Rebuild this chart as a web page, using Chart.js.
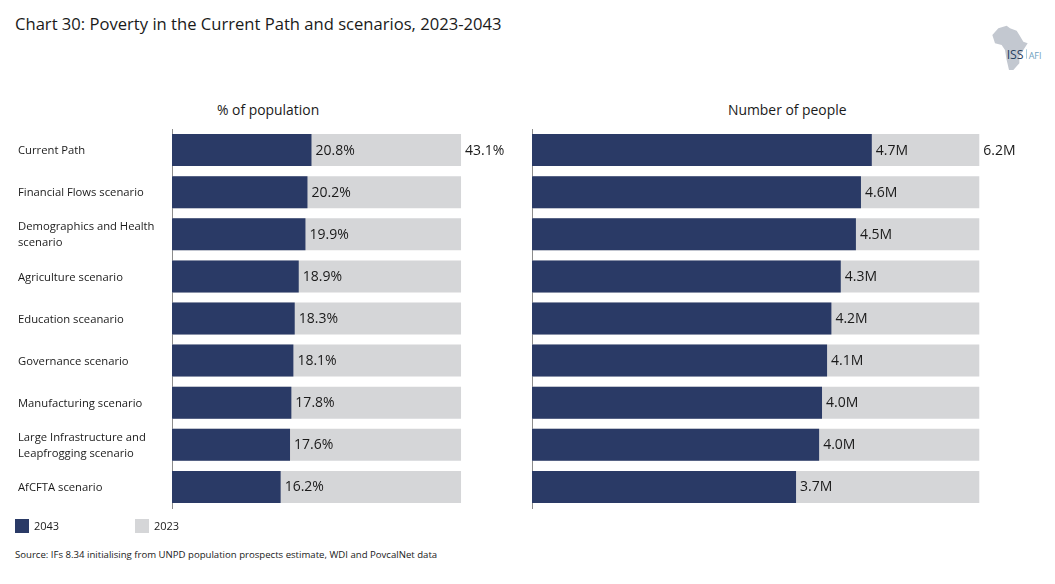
<!DOCTYPE html>
<html>
<head>
<meta charset="utf-8">
<title>Chart 30</title>
<script src="https://cdn.jsdelivr.net/npm/chart.js@4"></script>
<style>
  html, body { margin: 0; padding: 0; background: #fff; }
  body { position: relative; width: 1055px; height: 584px; overflow: hidden; font-family: "Open Sans", sans-serif; color: #1a1a1a; }
  canvas { position: absolute; top: 120px; }
  .txt { position: absolute; white-space: nowrap; }
  .swatch { position: absolute; width: 14px; height: 14px; top: 519px; }
</style>
</head>
<body>
<div class="txt" style="left:15px;top:12px;font-size:16.6px">Chart 30: Poverty in the Current Path and scenarios, 2023-2043</div>

<svg style="position:absolute;left:960px;top:10px" width="95" height="70" viewBox="0 0 285 210">
  <path fill="#c3c8d0" d="M97 75 L115 55 L140 47 L150 55 L170 62 L178 75 L190 95 L203 100 L190 120 L178 140 L178 160 L160 180 L147 180 L140 150 L135 120 L125 105 L105 100 Z"/>
  <text x="140" y="147" font-family="Open Sans" font-size="37" fill="#27405f">ISS</text>
  <rect x="199" y="118" width="2" height="28" fill="#7fb2cc"/>
  <text x="206" y="146" font-family="Open Sans" font-size="27" fill="#6f9fc0">AFI</text>
</svg>

<div class="txt" style="left:217px;top:100px;font-size:13.9px">% of population</div>
<div class="txt" style="left:728px;top:100px;font-size:13.9px">Number of people</div>

<canvas id="pct-chart" width="522" height="400" style="left:0"></canvas>
<canvas id="people-chart" width="533" height="400" style="left:522px"></canvas>

<div class="swatch" style="left:15px;background:#2a3a66"></div>
<div class="txt" style="left:34px;top:518px;font-size:11px">2043</div>
<div class="swatch" style="left:135px;background:#d5d6d8"></div>
<div class="txt" style="left:154px;top:518px;font-size:11px">2023</div>

<div class="txt" style="left:15px;top:548px;font-size:9.6px">Source: IFs 8.34 initialising from UNPD population prospects estimate, WDI and PovcalNet data</div>

<script>
const scenarios = [
  "Current Path",
  "Financial Flows scenario",
  ["Demographics and Health", "scenario"],
  "Agriculture scenario",
  "Education sceanario",
  "Governance scenario",
  "Manufacturing scenario",
  ["Large Infrastructure and", "Leapfrogging scenario"],
  "AfCFTA scenario"
];
const pct2043 = [20.8, 20.2, 19.9, 18.9, 18.3, 18.1, 17.8, 17.6, 16.2];
const pct2023 = [43.1, 43.1, 43.1, 43.1, 43.1, 43.1, 43.1, 43.1, 43.1];
const people2043 = [4.71, 4.56, 4.49, 4.28, 4.15, 4.09, 4.02, 3.98, 3.66];
const people2023 = [6.2, 6.2, 6.2, 6.2, 6.2, 6.2, 6.2, 6.2, 6.2];

const navy = "#2a3a66";
const grey = "#d5d6d8";

// value labels: every 2043 bar, and the 2023 bar on the first row only
const valueLabels = {
  id: "valueLabels",
  afterDatasetsDraw(chart, args, opts) {
    const { ctx } = chart;
    ctx.save();
    ctx.font = '14px "Open Sans"';
    ctx.fillStyle = "#1a1a1a";
    ctx.textBaseline = "middle";
    chart.getDatasetMeta(0).data.forEach((bar, i) => {
      ctx.fillText(opts.format(chart.data.datasets[0].data[i]), bar.x + 4, bar.y + 0.5);
    });
    const first = chart.getDatasetMeta(1).data[0];
    ctx.fillText(opts.format(chart.data.datasets[1].data[0]), first.x + 4, first.y + 0.5);
    ctx.restore();
  }
};

function makeChart(id, recent, base, xMax, format, showLabels, pad) {
  new Chart(document.getElementById(id), {
    type: "bar",
    data: {
      labels: scenarios,
      datasets: [
        { label: "2043", data: recent, backgroundColor: navy },
        { label: "2023", data: base, backgroundColor: grey }
      ]
    },
    plugins: [valueLabels],
    options: {
      indexAxis: "y",
      responsive: false,
      animation: false,
      grouped: false,
      barPercentage: 1,
      categoryPercentage: 0.76,
      layout: { padding: { left: pad.left, right: pad.right, top: 9, bottom: 12 } },
      plugins: {
        legend: { display: false },
        tooltip: { enabled: false },
        valueLabels: { format }
      },
      scales: {
        x: { display: false, min: 0, max: xMax },
        y: {
          grid: { display: false },
          border: { color: "#8c8c8c" },
          afterFit(scale) { scale.width = pad.axis; },
          ticks: {
            display: showLabels,
            crossAlign: "far",
            color: "#1a1a1a",
            padding: 0,
            labelOffset: 1,
            font: { family: "Open Sans", size: 11.25, lineHeight: 1.42 }
          }
        }
      }
    }
  });
}

makeChart("pct-chart", pct2043, pct2023, 50, v => v.toFixed(1) + "%", true, { left: 18, right: 14.7, axis: 154 });
makeChart("people-chart", people2043, people2023, 7, v => v.toFixed(1) + "M", false, { left: 10, right: 18, axis: 0 });
</script>
</body>
</html>
